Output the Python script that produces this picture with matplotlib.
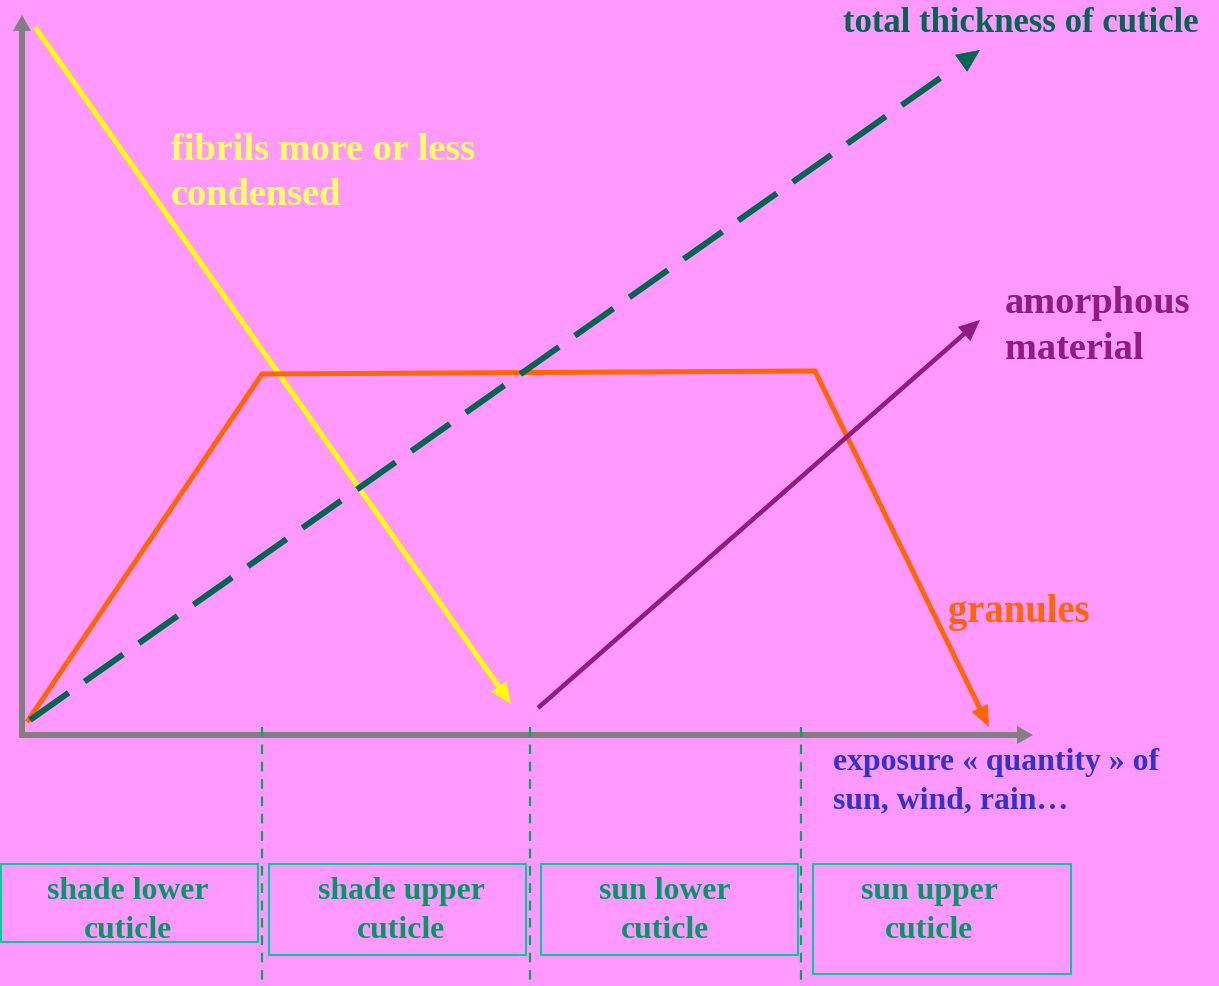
import matplotlib
matplotlib.use("Agg")
import numpy as np
import matplotlib.pyplot as plt
from matplotlib.patches import Rectangle

# schematic: cuticle components vs exposure (pixel-like units, y grows downward)
axis_x = [22, 22, 1033]
axis_y = [15, 735, 735]

fibrils_x = [35, 511]
fibrils_y = [27, 704]
granules_x = [27, 262, 815, 989]
granules_y = [722, 374, 371, 727]
thickness_x = [30, 980]
thickness_y = [720, 50]
amorphous_x = [538, 980]
amorphous_y = [708, 320]

zone_edges = [262, 530, 801]
zone_names = ["shade lower\ncuticle", "shade upper\ncuticle",
              "sun lower\ncuticle", "sun upper\ncuticle"]
box_left = [1, 269, 541, 813]
box_right = [258, 526, 798, 1071]
box_top = [864, 864, 864, 864]
box_bottom = [942, 955, 955, 974]
name_center = [128, 401, 665, 929]

BG = "#FF99FF"
GRAY = "#808080"
YELLOW = "#FFFF00"
ORANGE = "#FF6600"
DKGREEN = "#00664F"
PURPLE = "#911C7D"
BLUE = "#3333CC"
TEAL_TXT = "#009966"
TEAL_BOX = "#00CC99"
ZONE_LINE = "#00AA55"

plt.rcParams['font.family'] = ['Liberation Serif', 'DejaVu Serif']
plt.rcParams['font.weight'] = 'bold'
plt.rcParams['lines.scale_dashes'] = False

W, H = 1219, 986
fig = plt.figure(figsize=(W / 100, H / 100), dpi=100, facecolor=BG)
ax = fig.add_axes([0, 0, 1, 1])
ax.set_facecolor(BG)
ax.set_xlim(0, W)
ax.set_ylim(H, 0)
ax.axis('off')


def head(x0, y0, x1, y1, color, hl, hw):
    # filled arrow head with tip at (x1, y1); hl/hw in pixels
    ax.annotate('', xy=(x1, y1), xytext=(x0, y0),
                arrowprops=dict(arrowstyle='-|>,head_length=%g,head_width=%g'
                                % (hl * 0.72, hw * 0.72 / 2),
                                mutation_scale=1, color=color, lw=0.5,
                                shrinkA=0, shrinkB=0))


def arrow_line(xs, ys, color, lw, hl, hw, ls='-'):
    xs = list(xs)
    ys = list(ys)
    dx, dy = xs[-1] - xs[-2], ys[-1] - ys[-2]
    d = np.hypot(dx, dy)
    bx = xs[-1] - dx / d * hl
    by = ys[-1] - dy / d * hl
    if ls == '-':
        ax.plot(xs[:-1] + [bx], ys[:-1] + [by], color=color, lw=lw,
                solid_capstyle='butt', solid_joinstyle='miter')
    else:
        ax.plot(xs[:-1] + [bx - dx / d * 8], ys[:-1] + [by - dy / d * 8],
                color=color, lw=lw, linestyle=ls, dash_capstyle='butt')
    head(bx, by, xs[-1], ys[-1], color, hl, hw)


# axes (line stops at head base)
ax.plot([axis_x[0], axis_x[1], axis_x[2] - 14], [axis_y[0] + 14, axis_y[1], axis_y[2]],
        color=GRAY, lw=4.3, solid_joinstyle='miter', solid_capstyle='butt', zorder=1)
head(axis_x[0], axis_y[0] + 15, axis_x[0], axis_y[0], GRAY, 15, 17)
head(axis_x[-1] - 15, axis_y[-1], axis_x[-1], axis_y[-1], GRAY, 15, 17)

# zone separators
ax.vlines(zone_edges, 727, H, colors=ZONE_LINE, lw=1.6, linestyles=[(0, (7, 5.5))])

# curves
arrow_line(fibrils_x, fibrils_y, YELLOW, 3.6, 20, 17)
arrow_line(granules_x, granules_y, ORANGE, 3.6, 20, 17)
arrow_line(thickness_x, thickness_y, DKGREEN, 4.3, 22, 20, ls=(0, (34, 14)))
arrow_line(amorphous_x, amorphous_y, PURPLE, 3.3, 20, 18)

# labels
ax.text(843, 32, "total thickness of cuticle", color=DKGREEN, fontsize=25)
ax.text(171, 160, "fibrils more or less", color="#FFFF66", fontsize=27.6)
ax.text(171, 205, "condensed", color="#FFFF66", fontsize=27.6)
ax.text(1005, 313, "amorphous", color=PURPLE, fontsize=27.6)
ax.text(1005, 359, "material", color=PURPLE, fontsize=27.6)
ax.text(948, 622, "granules", color=ORANGE, fontsize=27.8)
ax.text(833, 770, "exposure \u00ab quantity \u00bb of", color=BLUE, fontsize=22.9)
ax.text(833, 808, "sun, wind, rain\u2026", color=BLUE, fontsize=22.9)

# zone boxes
for l, r, t, b, c, name in zip(box_left, box_right, box_top, box_bottom,
                               name_center, zone_names):
    ax.add_patch(Rectangle((l, t), r - l, b - t, fill=False,
                           edgecolor=TEAL_BOX, lw=1.5))
    line1, line2 = name.split("\n")
    ax.text(c, 899, line1, color=TEAL_TXT, fontsize=22.9, ha='center')
    ax.text(c, 938, line2, color=TEAL_TXT, fontsize=22.9, ha='center')

fig.savefig("out.png", dpi=100, facecolor=BG)
